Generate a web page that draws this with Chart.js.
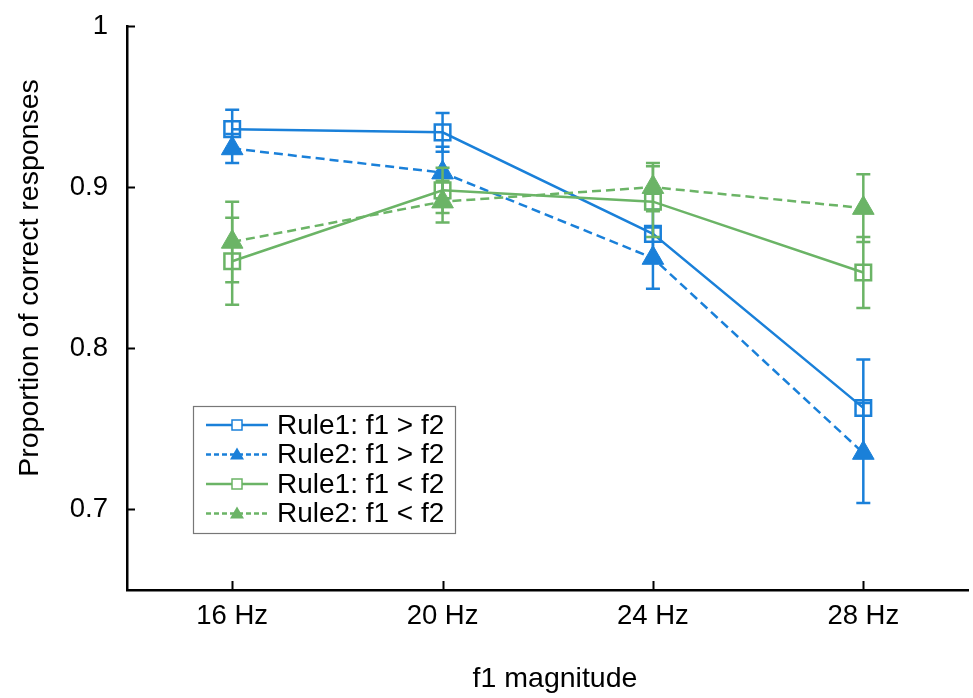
<!DOCTYPE html>
<html>
<head>
<meta charset="utf-8">
<script src="https://cdn.jsdelivr.net/npm/chart.js@4/dist/chart.umd.min.js"></script>
<style>
  html, body { margin: 0; padding: 0; background: #fff; overflow: hidden; }
  #wrap { width: 982px; height: 698px; }
</style>
</head>
<body>
<div id="wrap"><canvas id="chart" width="982" height="698"></canvas></div>
<script>
// data
const labels = ['16 Hz', '20 Hz', '24 Hz', '28 Hz'];
const yTicks = [0.7, 0.8, 0.9, 1];

const rule1Greater = [0.936, 0.934, 0.871, 0.763];
const rule1GreaterErr = [0.012, 0.012, 0.015, 0.030];
const rule2Greater = [0.924, 0.909, 0.856, 0.735];
const rule2GreaterErr = [0.009, 0.016, 0.019, 0.031];
const rule1Less = [0.854, 0.898, 0.891, 0.847];
const rule1LessErr = [0.027, 0.014, 0.022, 0.022];
const rule2Less = [0.866, 0.891, 0.900, 0.887];
const rule2LessErr = [0.025, 0.013, 0.015, 0.021];

const BLUE = '#1a80d9';
const GREEN = '#6bb466';
const FONT = '"Liberation Sans", Arial, sans-serif';

function series(label, data, err, color, dashed, marker, order) {
  return {
    label: label,
    data: data,
    err: err,
    borderColor: color,
    backgroundColor: marker === 'rect' ? 'rgba(0,0,0,0)' : color,
    pointBackgroundColor: marker === 'rect' ? 'rgba(0,0,0,0)' : color,
    pointBorderColor: color,
    pointStyle: marker,
    pointRadius: marker === 'rect' ? 11 : 12.5,
    pointBorderWidth: marker === 'rect' ? 2.5 : 1,
    borderWidth: 2.5,
    borderDash: dashed ? [9, 5] : [],
    tension: 0,
    fill: false,
    order: order
  };
}

const datasets = [
  series('Rule1: f1 > f2', rule1Greater, rule1GreaterErr, BLUE, false, 'rect', 3),
  series('Rule2: f1 > f2', rule2Greater, rule2GreaterErr, BLUE, true, 'triangle', 2),
  series('Rule1: f1 < f2', rule1Less, rule1LessErr, GREEN, false, 'rect', 1),
  series('Rule2: f1 < f2', rule2Less, rule2LessErr, GREEN, true, 'triangle', 0)
];

// error bars, inward ticks, axis titles and boxed legend
const extras = {
  id: 'extras',
  beforeDatasetDraw(chart, args) {
    const ds = chart.data.datasets[args.index];
    const yScale = chart.scales.y;
    const ctx = chart.ctx;
    ctx.save();
    ctx.strokeStyle = ds.borderColor;
    ctx.lineWidth = 2.5;
    args.meta.data.forEach((pt, i) => {
      const top = yScale.getPixelForValue(ds.data[i] + ds.err[i]);
      const bot = yScale.getPixelForValue(ds.data[i] - ds.err[i]);
      ctx.beginPath();
      ctx.moveTo(pt.x, top); ctx.lineTo(pt.x, bot);
      ctx.moveTo(pt.x - 7, top); ctx.lineTo(pt.x + 7, top);
      ctx.moveTo(pt.x - 7, bot); ctx.lineTo(pt.x + 7, bot);
      ctx.stroke();
    });
    ctx.restore();
  },
  afterDraw(chart) {
    const ctx = chart.ctx;
    const area = chart.chartArea;
    const xs = chart.scales.x;
    const ys = chart.scales.y;
    ctx.save();
    ctx.strokeStyle = '#000';
    ctx.lineWidth = 2;
    ctx.beginPath();
    yTicks.forEach(v => {
      const y = Math.round(ys.getPixelForValue(v)) + 0.5;
      ctx.moveTo(area.left, y); ctx.lineTo(area.left + 8, y);
    });
    labels.forEach((l, i) => {
      const x = Math.round(xs.getPixelForValue(i)) + 0.5;
      ctx.moveTo(x, area.bottom); ctx.lineTo(x, area.bottom - 9);
    });
    ctx.stroke();

    // axis titles
    ctx.fillStyle = '#000';
    ctx.font = '28.5px ' + FONT;
    ctx.textAlign = 'center';
    ctx.textBaseline = 'middle';
    ctx.fillText('f1 magnitude', 555, 679);
    ctx.translate(30, 278);
    ctx.rotate(-Math.PI / 2);
    ctx.fillText('Proportion of correct responses', 0, 0);
    ctx.restore();

    // legend
    ctx.save();
    ctx.strokeStyle = '#777';
    ctx.lineWidth = 1.2;
    ctx.strokeRect(193.5, 406.5, 262, 127);
    ctx.font = '28px ' + FONT;
    ctx.textAlign = 'left';
    ctx.textBaseline = 'middle';
    chart.data.datasets.forEach((ds, i) => {
      const y = 425 + i * 29.5;
      ctx.strokeStyle = ds.borderColor;
      ctx.lineWidth = 2.5;
      ctx.setLineDash(ds.borderDash.length ? [5, 3] : []);
      ctx.beginPath();
      ctx.moveTo(206, y); ctx.lineTo(268, y);
      ctx.stroke();
      ctx.setLineDash([]);
      if (ds.pointStyle === 'rect') {
        ctx.fillStyle = '#fff';
        ctx.fillRect(232, y - 5, 10, 10);
        ctx.lineWidth = 1.5;
        ctx.strokeRect(232, y - 5, 10, 10);
      } else {
        ctx.fillStyle = ds.borderColor;
        ctx.beginPath();
        ctx.moveTo(237, y - 7);
        ctx.lineTo(244, y + 5);
        ctx.lineTo(230, y + 5);
        ctx.closePath();
        ctx.fill();
      }
      ctx.fillStyle = '#000';
      ctx.fillText(ds.label, 277, y + 1);
    });
    ctx.restore();
  }
};

new Chart(document.getElementById('chart'), {
  type: 'line',
  data: { labels: labels, datasets: datasets },
  options: {
    responsive: false,
    animation: false,
    layout: { padding: { top: 26, right: -2, left: 0, bottom: 0 } },
    plugins: { legend: { display: false }, tooltip: { enabled: false } },
    scales: {
      x: {
        type: 'category',
        offset: true,
        grid: { display: false, drawTicks: false },
        border: { display: true, color: '#000', width: 2.5 },
        ticks: { color: '#000', font: { family: FONT, size: 27.5 }, padding: 10 },
        afterFit(scale) {
          scale.height = 108;
          scale.paddingLeft = 0;
          scale.paddingRight = 0;
        }
      },
      y: {
        min: 0.65,
        max: 1,
        grid: { display: false, drawTicks: false },
        border: { display: true, color: '#000', width: 2.5 },
        afterBuildTicks(scale) { scale.ticks = yTicks.map(v => ({ value: v })); },
        ticks: {
          color: '#000',
          font: { family: FONT, size: 27.5 },
          padding: 19,
          callback: v => (v === 1 ? '1' : v.toFixed(1))
        },
        afterFit(scale) {
          scale.width = 127;
          scale.paddingTop = 0;
          scale.paddingBottom = 0;
        }
      }
    }
  },
  plugins: [extras]
});
</script>
</body>
</html>
